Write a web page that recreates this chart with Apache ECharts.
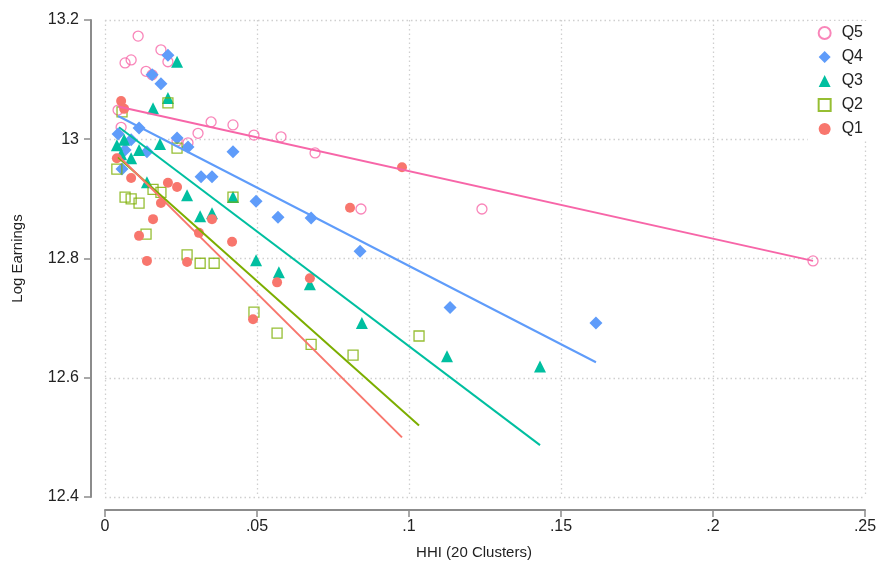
<!DOCTYPE html>
<html>
<head>
<meta charset="utf-8">
<script src="https://cdn.jsdelivr.net/npm/echarts@6/dist/echarts.min.js"></script>
<style>
html,body{margin:0;padding:0;background:#fff;}
#chart{width:879px;height:567px;}
</style>
</head>
<body>
<div id="chart"></div>
<script>
// HHI (x), Log Earnings (y) per quintile
const q5 = [[0.0043,13.049],[0.0053,13.020],[0.0066,13.128],[0.0086,13.133],[0.0109,13.173],[0.0135,13.114],[0.0155,13.108],[0.0184,13.150],[0.0207,13.130],[0.0237,12.997],[0.0273,12.994],[0.0306,13.010],[0.0349,13.029],[0.0421,13.024],[0.0490,13.007],[0.0579,13.004],[0.0691,12.977],[0.0842,12.883],[0.1240,12.883],[0.2329,12.796]];
const q4 = [[0.0043,13.009],[0.0056,12.950],[0.0066,12.982],[0.0086,12.999],[0.0112,13.019],[0.0138,12.979],[0.0155,13.108],[0.0184,13.093],[0.0207,13.141],[0.0237,13.002],[0.0273,12.987],[0.0316,12.937],[0.0352,12.937],[0.0421,12.979],[0.0497,12.896],[0.0569,12.869],[0.0678,12.868],[0.0839,12.812],[0.1135,12.718],[0.1615,12.692]];
const q3 = [[0.0039,12.990],[0.0063,12.999],[0.0053,12.975],[0.0086,12.968],[0.0112,12.982],[0.0181,12.992],[0.0138,12.928],[0.0158,13.052],[0.0207,13.069],[0.0237,13.130],[0.0270,12.906],[0.0313,12.871],[0.0352,12.876],[0.0421,12.903],[0.0497,12.797],[0.0572,12.777],[0.0674,12.757],[0.0845,12.692],[0.1125,12.636],[0.1431,12.619]];
const q2 = [[0.0056,13.046],[0.0039,12.950],[0.0066,12.903],[0.0086,12.900],[0.0112,12.893],[0.0135,12.841],[0.0158,12.916],[0.0184,12.911],[0.0207,13.061],[0.0237,12.985],[0.0270,12.806],[0.0313,12.792],[0.0359,12.792],[0.0421,12.903],[0.0490,12.710],[0.0566,12.675],[0.0678,12.656],[0.0816,12.638],[0.1033,12.670]];
const q1 = [[0.0053,13.064],[0.0063,13.051],[0.0039,12.968],[0.0086,12.935],[0.0207,12.927],[0.0237,12.920],[0.0184,12.893],[0.0158,12.866],[0.0112,12.838],[0.0138,12.796],[0.0270,12.794],[0.0352,12.866],[0.0309,12.843],[0.0418,12.828],[0.0487,12.698],[0.0566,12.760],[0.0674,12.767],[0.0806,12.885],[0.0977,12.953]];
// fitted lines (endpoints)
const fitQ5 = [[0.0043,13.055],[0.2329,12.796]];
const fitQ4 = [[0.0043,13.039],[0.1615,12.626]];
const fitQ3 = [[0.0046,13.020],[0.1431,12.487]];
const fitQ2 = [[0.0043,12.970],[0.1033,12.520]];
const fitQ1 = [[0.0039,12.975],[0.0977,12.500]];
const xTicks = [0, 0.05, 0.1, 0.15, 0.2, 0.25];
const yTicks = [12.4, 12.6, 12.8, 13, 13.2];

const C5 = '#F766A8', C4 = '#5F9CFA', C3 = '#00BFA0', C2 = '#7CAE00', C1 = '#F8766D';
const FONT = 'Liberation Sans, Arial, sans-serif';

function scat(name, data, symbol, size, color, hollow) {
  return {
    name: name, type: 'scatter', data: data, symbol: symbol, symbolSize: size, z: 3,
    itemStyle: hollow ? {color: 'rgba(255,255,255,0)', borderColor: color, borderWidth: 1.3} : {color: color, opacity: 1},
    emphasis: {disabled: true}
  };
}
function fit(data, color) {
  return {
    type: 'line', data: data, symbol: 'none', z: 4, silent: true,
    lineStyle: {color: color, width: 2}
  };
}

const chart = echarts.init(document.getElementById('chart'), null, {renderer: 'canvas'});
chart.setOption({
  animation: false,
  backgroundColor: '#fff',
  grid: {left: 105, right: 14, top: 20, bottom: 70, containLabel: false, outerBoundsMode: 'none'},
  xAxis: {
    type: 'value', min: xTicks[0], max: xTicks[xTicks.length - 1], interval: 0.05,
    offset: 13,
    name: 'HHI (20 Clusters)', nameLocation: 'middle', nameGap: 35,
    nameTextStyle: {fontFamily: FONT, fontSize: 15, color: '#222', padding: [0, 22, 0, 0]},
    axisLine: {show: true, onZero: false, lineStyle: {color: '#8c8c8c', width: 2}},
    axisTick: {show: true, length: 7, lineStyle: {color: '#8c8c8c', width: 1.5}},
    axisLabel: {fontFamily: FONT, fontSize: 16, color: '#222', margin: 9,
      formatter: v => { const s = String(Math.round(v * 100) / 100); return s === '0' ? '0' : s.replace(/^0/, ''); }},
    splitLine: {show: true, lineStyle: {color: '#cfcfcf', type: [1.5, 3], width: 1.3}}
  },
  yAxis: {
    type: 'value', min: yTicks[0], max: yTicks[yTicks.length - 1], interval: 0.2,
    offset: 14,
    name: 'Log Earnings', nameLocation: 'middle', nameGap: 66, nameRotate: 90,
    nameTextStyle: {fontFamily: FONT, fontSize: 15, color: '#222'},
    axisLine: {show: true, onZero: false, lineStyle: {color: '#8c8c8c', width: 2}},
    axisTick: {show: true, length: 7, lineStyle: {color: '#8c8c8c', width: 1.5}},
    axisLabel: {fontFamily: FONT, fontSize: 16, color: '#222', margin: 12,
      formatter: v => String(Math.round(v * 10) / 10)},
    splitLine: {show: true, lineStyle: {color: '#cfcfcf', type: [1.5, 3], width: 1.3}}
  },
  legend: {
    orient: 'vertical', right: 10, top: 21, backgroundColor: '#fff',
    padding: [4, 6, 4, 10],
    itemWidth: 12, itemHeight: 12, itemGap: 8,
    textStyle: {fontFamily: FONT, fontSize: 16, color: '#222', lineHeight: 16, padding: [0, 0, 0, 6]},
    data: ['Q5', 'Q4', 'Q3', 'Q2', 'Q1']
  },
  series: [
    scat('Q5', q5, 'circle', 10, C5, true),
    scat('Q4', q4, 'diamond', 13, C4, false),
    scat('Q3', q3, 'triangle', 12, C3, false),
    scat('Q2', q2, 'rect', 10, C2, true),
    scat('Q1', q1, 'circle', 10, C1, false),
    fit(fitQ5, C5), fit(fitQ4, C4), fit(fitQ3, C3), fit(fitQ2, C2), fit(fitQ1, C1)
  ]
});
</script>
</body>
</html>
